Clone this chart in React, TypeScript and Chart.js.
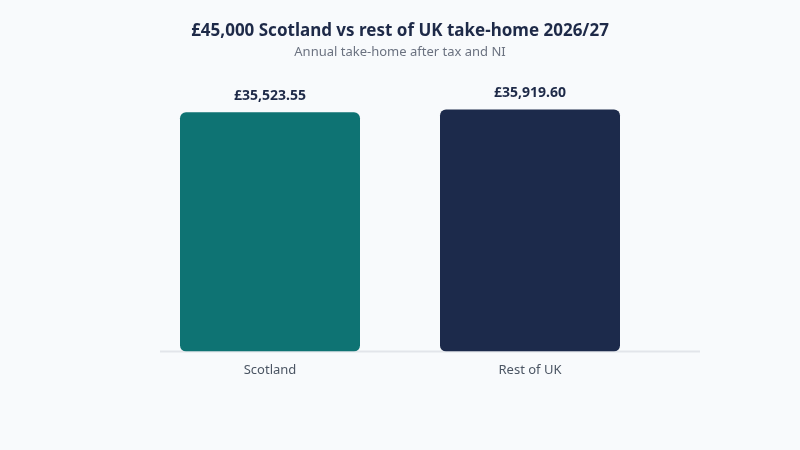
import { useEffect, useRef } from "react";
import { Chart, registerables } from "chart.js";
Chart.register(...registerables);

const labels = ["Scotland", "Rest of UK"];
const takeHome = [35523.55, 35919.6];
const barColors = ["#0e7373", "#1c2a4b"];

const FONT = "'Noto Sans', 'Open Sans', sans-serif";

const fmt = (v: number) =>
  "£" + v.toLocaleString("en-GB", { minimumFractionDigits: 2, maximumFractionDigits: 2 });

// baseline drawn under the bars, shifted right of the plot area as in the source
const baseline = {
  id: "baseline",
  beforeDatasetsDraw(chart: any) {
    const { ctx, chartArea } = chart;
    ctx.save();
    ctx.strokeStyle = "#e2e5ea";
    ctx.lineWidth = 2;
    ctx.beginPath();
    ctx.moveTo(chartArea.left + 20, chartArea.bottom);
    ctx.lineTo(chartArea.right + 40, chartArea.bottom);
    ctx.stroke();
    ctx.restore();
  },
};

const valueLabels = {
  id: "valueLabels",
  afterDatasetsDraw(chart: any) {
    const { ctx } = chart;
    const meta = chart.getDatasetMeta(0);
    ctx.save();
    ctx.font = `bold 14px ${FONT}`;
    ctx.fillStyle = "#1e2a48";
    ctx.textAlign = "center";
    ctx.textBaseline = "middle";
    meta.data.forEach((bar: any, i: number) => {
      ctx.fillText(fmt(takeHome[i]), bar.x, bar.y - 16);
    });
    ctx.restore();
  },
};

export default function App() {
  const ref = useRef<HTMLCanvasElement>(null);
  const chart = useRef<Chart | null>(null);

  useEffect(() => {
    if (!ref.current) return;
    if (chart.current) chart.current.destroy();

    chart.current = new Chart(ref.current, {
      type: "bar",
      data: {
        labels,
        datasets: [
          {
            data: takeHome,
            backgroundColor: barColors,
            borderRadius: 6,
            borderSkipped: false,
            barPercentage: 180 / 260,
            categoryPercentage: 1,
          },
        ],
      },
      options: {
        responsive: true,
        maintainAspectRatio: false,
        animation: false,
        layout: { padding: { left: 140, right: 140, top: 0, bottom: 69 } },
        plugins: {
          legend: { display: false },
          tooltip: { enabled: false },
          title: {
            display: true,
            text: "£45,000 Scotland vs rest of UK take-home 2026/27",
            color: "#1e2a48",
            font: { family: FONT, size: 17, weight: "bold" },
            padding: { top: 21, bottom: 3 },
          },
          subtitle: {
            display: true,
            text: "Annual take-home after tax and NI",
            color: "#6b7280",
            font: { family: FONT, size: 13 },
            padding: { top: 0, bottom: 22 },
          },
        },
        scales: {
          x: {
            grid: { display: false },
            border: { display: false },
            ticks: { color: "#4b5563", font: { family: FONT, size: 13 }, padding: 3 },
          },
          y: { display: false, min: 0, max: 40000 },
        },
      },
      plugins: [baseline, valueLabels],
    });

    return () => chart.current?.destroy();
  }, []);

  return (
    <div style={{ position: "fixed", left: 0, top: 0, width: 800, height: 450, background: "#f8fafc" }}>
      <canvas ref={ref} />
    </div>
  );
}
